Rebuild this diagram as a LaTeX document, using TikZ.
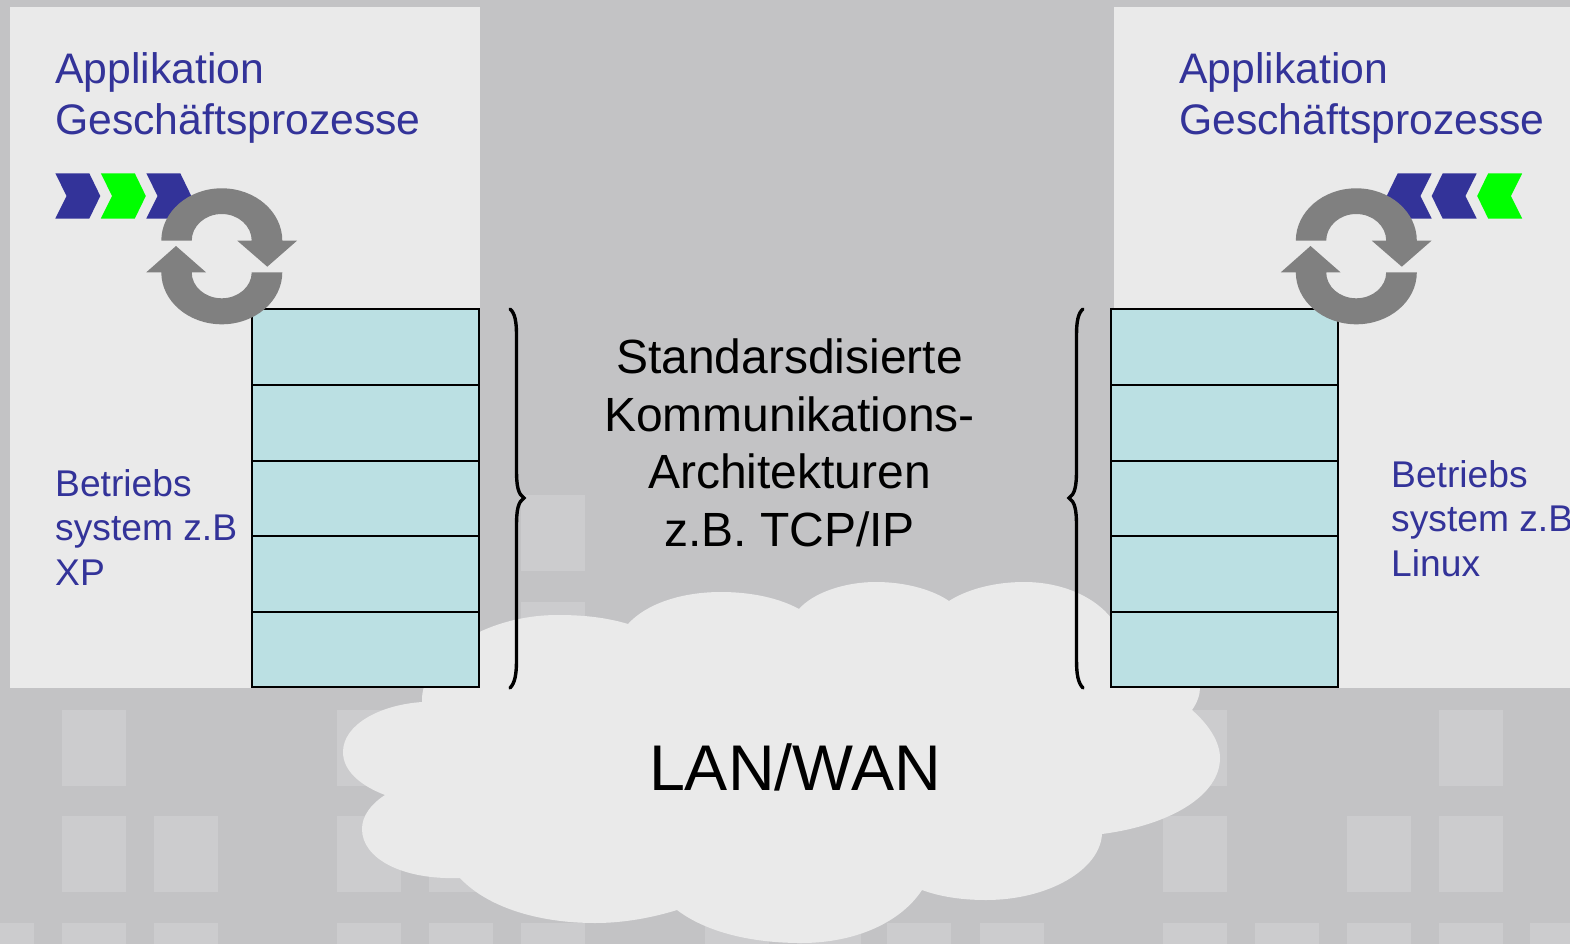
\documentclass[tikz,border=0pt]{standalone}
\usepackage{xcolor}
\usepackage{fontspec}
\setmainfont{Liberation Sans}
\usetikzlibrary{positioning}
\definecolor{backgr}{HTML}{C3C3C5}
\definecolor{winfill}{HTML}{CCCCCE}
\definecolor{panelfill}{HTML}{EAEAEA}
\definecolor{layerfill}{HTML}{BBE0E3}
\definecolor{textblue}{HTML}{333399}
\definecolor{chevgreen}{HTML}{00FF00}
\definecolor{loopgray}{HTML}{808080}
\tikzstyle{brace} = [line width=3.4pt, line cap=round]
\newcommand{\chevpath}{(55.3,173.3) -- (89.3,173.3) -- (100.3,196) -- (89.3,218.6) -- (55.3,218.6) -- (66.6,196) -- cycle}

\begin{document}
\begin{tikzpicture}[x=1pt, y=-1pt, node distance=75.6pt, on grid]
        \tikzstyle{layer}=[
            draw,
            fill=layerfill,
            line width=2pt,
            minimum width=227pt,
            minimum height=75.6pt,
            inner sep=0pt
        ]
        \tikzstyle{apptext}=[
            text=textblue,
            align=left,
            inner sep=0pt,
            font=\fontsize{42.7}{51}\selectfont
        ]
        \tikzstyle{ostext}=[
            text=textblue,
            align=left,
            inner sep=0pt,
            font=\fontsize{37.2}{44.5}\selectfont
        ]
        \tikzstyle{looparrow}=[fill=loopgray]

        \useasboundingbox (0,0) rectangle (1570,944);
        \fill[backgr] (0,0) rectangle (1570,944);

        % windows of the building
        \foreach \wx/\wy in {521/495, 521/602, 62/710, 337/710, 1163/710, 1439/710,
            62/816, 154/816, 337/816, 429/816, 1163/816, 1347/816, 1439/816,
            -30/923, 62/923, 154/923, 337/923, 429/923, 521/923, 705/923, 797/923,
            887/923, 980/923, 1163/923, 1255/923, 1347/923, 1439/923, 1530/923}
            \fill[winfill] (\wx,\wy) rectangle ++(64,76);

        \fill[panelfill] (10,7) rectangle (480,688);
        \fill[panelfill] (1113.5,7) rectangle (1570,688);

        % cloud
        \fill[panelfill, xshift=1pt] (421,702) .. controls (419,660) and (480,615) .. (557,615)
            .. controls (585,615) and (607,618) .. (627,624)
            .. controls (645,604) and (680,592) .. (720,592)
            .. controls (750,592) and (778,598) .. (798,609)
            .. controls (812,593) and (843,582) .. (875,582)
            .. controls (905,582) and (932,590) .. (948,601)
            .. controls (965,590) and (992,582) .. (1023,582)
            .. controls (1065,582) and (1100,600) .. (1115,625)
            -- (1199,680) -- (1199,688)
            .. controls (1199,695) and (1196,703) .. (1191,710)
            .. controls (1208,725) and (1219,742) .. (1219,758)
            .. controls (1219,795) and (1170,825) .. (1101,834)
            .. controls (1099,870) and (1047,900) .. (985,900)
            .. controls (962,900) and (940,897) .. (921,890)
            .. controls (900,922) and (855,943) .. (800,943)
            .. controls (750,943) and (705,932) .. (676,910)
            .. controls (650,918) and (622,923) .. (594,923)
            .. controls (535,923) and (485,906) .. (459,878)
            .. controls (400,880) and (361,858) .. (361,829)
            .. controls (361,816) and (370,804) .. (384,795)
            .. controls (358,785) and (342,770) .. (342,752)
            .. controls (342,725) and (378,705) .. (421,702) -- cycle;

        \node[layer] (la) at (365.7,347.2) {};
        \node[layer] (lb) [below=of la] {};
        \node[layer] (lc) [below=of lb] {};
        \node[layer] (ld) [below=of lc] {};
        \node[layer] (le) [below=of ld] {};

        \node[layer] (ra) at (1224.2,347.2) {};
        \node[layer] (rb) [below=of ra] {};
        \node[layer] (rc) [below=of rb] {};
        \node[layer] (rd) [below=of rc] {};
        \node[layer] (re) [below=of rd] {};

        \fill[textblue] \chevpath;
        \fill[chevgreen, xshift=45.5pt] \chevpath;
        \fill[textblue, xshift=91pt] \chevpath;

        % right ones are mirrored
        \fill[textblue, xshift=1487pt, xscale=-1] \chevpath;
        \fill[textblue, xshift=1532pt, xscale=-1] \chevpath;
        \fill[chevgreen, xshift=1577.5pt, xscale=-1] \chevpath;

        \begin{scope}
            \fill[looparrow] (161.3,240.7) arc[start angle=180, end angle=0, x radius=60.5pt, y radius=52.4pt]
                -- (297,240.7) -- (267.3,266.7) -- (237.3,240.7) -- (251.7,240.7)
                arc[start angle=0, end angle=180, x radius=30pt, y radius=26.7pt] -- cycle;
            \fill[looparrow] (282.3,272.3) arc[start angle=0, end angle=-180, x radius=60.5pt, y radius=52pt]
                -- (146.3,272.3) -- (176,246) -- (206,272.3) -- (191.7,272.3)
                arc[start angle=-180, end angle=0, x radius=30pt, y radius=26pt] -- cycle;
        \end{scope}
        \begin{scope}[xshift=1134.5pt]
            \fill[looparrow] (161.3,240.7) arc[start angle=180, end angle=0, x radius=60.5pt, y radius=52.4pt]
                -- (297,240.7) -- (267.3,266.7) -- (237.3,240.7) -- (251.7,240.7)
                arc[start angle=0, end angle=180, x radius=30pt, y radius=26.7pt] -- cycle;
            \fill[looparrow] (282.3,272.3) arc[start angle=0, end angle=-180, x radius=60.5pt, y radius=52pt]
                -- (146.3,272.3) -- (176,246) -- (206,272.3) -- (191.7,272.3)
                arc[start angle=-180, end angle=0, x radius=30pt, y radius=26pt] -- cycle;
        \end{scope}

        % braces
        \draw[brace] (510,309) .. controls (515,313) and (516.5,322) .. (516.5,335) -- (516.5,470)
            .. controls (516.5,486) and (518,494) .. (524,498)
            .. controls (518,502) and (516.5,510) .. (516.5,526) -- (516.5,660)
            .. controls (516.5,674) and (515,683) .. (510,688);
        \draw[brace] (1083,309) .. controls (1078,313) and (1076.5,322) .. (1076.5,335) -- (1076.5,470)
            .. controls (1076.5,486) and (1075,494) .. (1069,498)
            .. controls (1075,502) and (1076.5,510) .. (1076.5,526) -- (1076.5,660)
            .. controls (1076.5,674) and (1078,683) .. (1083,688);

        \node[apptext, anchor=north west] (appleft) at (55,52) {Applikation\\Geschäftsprozesse};
        \node[apptext, anchor=north west] (appright) at (1179,52) {Applikation\\Geschäftsprozesse};
        \node[ostext, anchor=north west] (osleft) at (55,469) {Betriebs\\system z.B\\XP};
        \node[ostext, anchor=north west] (osright) at (1391,460) {Betriebs\\system z.B\\Linux};

        \node[align=center, inner sep=0pt, font=\fontsize{48}{57.5}\selectfont] (proto) at (789.5,443)
            {Standarsdisierte\\Kommunikations-\\Architekturen\\z.B. TCP/IP};
        \node[inner sep=0pt, font=\fontsize{64.6}{70}\selectfont] (net) at (795,767) {LAN/WAN};

    \end{tikzpicture}
\end{document}
